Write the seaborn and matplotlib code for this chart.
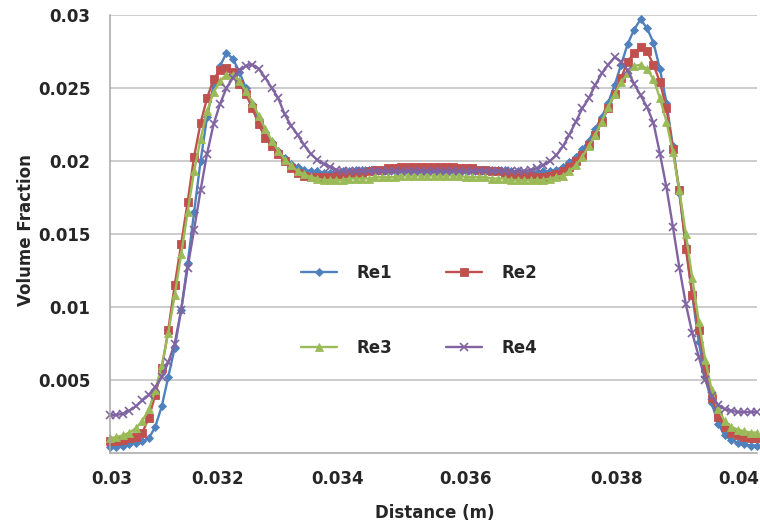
import numpy as np
import pandas as pd
import matplotlib
matplotlib.use('Agg')
import matplotlib.pyplot as plt
import seaborn as sns

# distance samples (m), 101 equally spaced rows as in the spreadsheet
distance = np.linspace(0.030, 0.040, 101)

re1 = [0.0004, 0.0004, 0.0005, 0.0006, 0.0007, 0.0008, 0.0010, 0.0018, 0.0032, 0.0052,
       0.0072, 0.0098, 0.0130, 0.0165, 0.0200, 0.0230, 0.0252, 0.0265, 0.0274, 0.0270,
       0.0261, 0.0250, 0.0239, 0.0229, 0.0220, 0.0213, 0.0207, 0.0202, 0.0198, 0.0196,
       0.0194, 0.0193, 0.0193, 0.0192, 0.0192, 0.0192, 0.0193, 0.0193, 0.0194, 0.0194,
       0.0194, 0.0194, 0.0193, 0.0193, 0.0193, 0.0193, 0.0193, 0.0193, 0.0193, 0.0193,
       0.0193, 0.0193, 0.0193, 0.0193, 0.0193, 0.0193, 0.0193, 0.0193, 0.0194, 0.0194,
       0.0194, 0.0194, 0.0193, 0.0193, 0.0192, 0.0192, 0.0192, 0.0193, 0.0193, 0.0194,
       0.0196, 0.0199, 0.0203, 0.0208, 0.0214, 0.0222, 0.0230, 0.0240, 0.0252, 0.0266,
       0.0280, 0.0290, 0.0297, 0.0291, 0.0281, 0.0263, 0.0240, 0.0210, 0.0178, 0.0142,
       0.0108, 0.0076, 0.0052, 0.0034, 0.0020, 0.0012, 0.0009, 0.0007, 0.0006, 0.0005, 0.0005]

re2 = [0.0008, 0.0008, 0.0009, 0.0010, 0.0011, 0.0014, 0.0024, 0.0040, 0.0058, 0.0084,
       0.0115, 0.0143, 0.0172, 0.0203, 0.0226, 0.0243, 0.0256, 0.0262, 0.0264, 0.0261,
       0.0253, 0.0246, 0.0236, 0.0225, 0.0216, 0.0210, 0.0205, 0.0200, 0.0195, 0.0192,
       0.0190, 0.0189, 0.0189, 0.0189, 0.0189, 0.0190, 0.0190, 0.0191, 0.0192, 0.0192,
       0.0193, 0.0194, 0.0194, 0.0195, 0.0195, 0.0196, 0.0196, 0.0196, 0.0196, 0.0196,
       0.0196, 0.0196, 0.0196, 0.0196, 0.0195, 0.0195, 0.0195, 0.0194, 0.0194, 0.0193,
       0.0193, 0.0192, 0.0191, 0.0191, 0.0190, 0.0190, 0.0189, 0.0189, 0.0190, 0.0191,
       0.0193, 0.0196, 0.0200, 0.0204, 0.0211, 0.0218, 0.0227, 0.0236, 0.0246, 0.0257,
       0.0268, 0.0274, 0.0278, 0.0275, 0.0266, 0.0254, 0.0236, 0.0208, 0.0180, 0.0140,
       0.0108, 0.0084, 0.0058, 0.0038, 0.0025, 0.0018, 0.0014, 0.0012, 0.0011, 0.0010, 0.0010]

re3 = [0.0010, 0.0011, 0.0012, 0.0014, 0.0017, 0.0022, 0.0030, 0.0043, 0.0060, 0.0082,
       0.0108, 0.0136, 0.0165, 0.0193, 0.0215, 0.0234, 0.0247, 0.0255, 0.0259, 0.0259,
       0.0255, 0.0248, 0.0240, 0.0231, 0.0222, 0.0214, 0.0207, 0.0201, 0.0197, 0.0193,
       0.0191, 0.0189, 0.0188, 0.0187, 0.0187, 0.0187, 0.0187, 0.0188, 0.0188, 0.0188,
       0.0188, 0.0189, 0.0189, 0.0189, 0.0189, 0.0190, 0.0190, 0.0190, 0.0190, 0.0190,
       0.0190, 0.0190, 0.0190, 0.0190, 0.0190, 0.0189, 0.0189, 0.0189, 0.0189, 0.0188,
       0.0188, 0.0188, 0.0187, 0.0187, 0.0187, 0.0187, 0.0187, 0.0187, 0.0188, 0.0189,
       0.0190, 0.0193, 0.0197, 0.0203, 0.0210, 0.0218, 0.0227, 0.0237, 0.0246, 0.0254,
       0.0260, 0.0265, 0.0266, 0.0263, 0.0256, 0.0243, 0.0227, 0.0206, 0.0180, 0.0150,
       0.0120, 0.0090, 0.0064, 0.0043, 0.0030, 0.0022, 0.0018, 0.0016, 0.0015, 0.0014, 0.0014]

re4 = [0.0026, 0.0026, 0.0027, 0.0029, 0.0032, 0.0036, 0.0040, 0.0045, 0.0052, 0.0062,
       0.0075, 0.0098, 0.0127, 0.0153, 0.0180, 0.0205, 0.0225, 0.0239, 0.0250, 0.0257,
       0.0262, 0.0265, 0.0266, 0.0263, 0.0257, 0.0250, 0.0243, 0.0232, 0.0224, 0.0218,
       0.0211, 0.0205, 0.0201, 0.0198, 0.0196, 0.0194, 0.0193, 0.0193, 0.0193, 0.0193,
       0.0193, 0.0193, 0.0193, 0.0193, 0.0193, 0.0193, 0.0193, 0.0193, 0.0193, 0.0193,
       0.0193, 0.0193, 0.0193, 0.0193, 0.0193, 0.0193, 0.0193, 0.0193, 0.0193, 0.0193,
       0.0193, 0.0193, 0.0193, 0.0193, 0.0193, 0.0194, 0.0195, 0.0197, 0.0200, 0.0204,
       0.0210, 0.0218, 0.0227, 0.0236, 0.0243, 0.0252, 0.0260, 0.0266, 0.0271, 0.0268,
       0.0262, 0.0253, 0.0245, 0.0237, 0.0226, 0.0205, 0.0182, 0.0155, 0.0127, 0.0102,
       0.0082, 0.0066, 0.0050, 0.0039, 0.0033, 0.0030, 0.0029, 0.0028, 0.0028, 0.0028, 0.0028]

series_names = ['Re1', 'Re2', 'Re3', 'Re4']
colors = ['#4F81BD', '#C0504D', '#9BBB59', '#8064A2']
markers = ['D', 's', '^', 'x']
marker_sizes = [4, 6, 6, 6]

x_tick_labels = ['0.03', '0.032', '0.034', '0.036', '0.038', '0.04']
x_tick_pos = [0.03003, 0.03167, 0.03352, 0.03550, 0.03783, 0.03972]
y_ticks = [0.005, 0.01, 0.015, 0.02, 0.025, 0.03]
y_tick_labels = ['0.005', '0.01', '0.015', '0.02', '0.025', '0.03']

df = pd.DataFrame({
    'Distance': np.tile(distance, 4),
    'Volume Fraction': re1 + re2 + re3 + re4,
    'Series': np.repeat(series_names, len(distance)),
})

sns.set_style('white')
plt.rcParams['font.family'] = ['DejaVu Sans']

fig = plt.figure(figsize=(7.6, 5.25), dpi=100)
ax = fig.add_axes([110 / 760, 1 - 453 / 525, 647 / 760, 438 / 525])

for name, col, mk, ms in zip(series_names, colors, markers, marker_sizes):
    sub = df[df['Series'] == name]
    sns.lineplot(data=sub, x='Distance', y='Volume Fraction', ax=ax, color=col,
                 marker=mk, markersize=ms, markeredgecolor=col,
                 markeredgewidth=1.2 if mk == 'x' else 0.6,
                 linewidth=1.7, label=name, clip_on=False)

ax.set_xlim(0.030, 0.040)
ax.set_ylim(0, 0.03)
ax.set_yticks(y_ticks)
ax.set_yticklabels(y_tick_labels)
ax.set_xticks(x_tick_pos)
ax.set_xticklabels(x_tick_labels)
ax.grid(axis='y', color='#BEBEBE', linewidth=1.1)
ax.set_axisbelow(True)
for side in ['top', 'right']:
    ax.spines[side].set_visible(False)
for side in ['left', 'bottom']:
    ax.spines[side].set_color('#A6A6A6')
    ax.spines[side].set_linewidth(1.1)

ax.tick_params(axis='both', length=0, labelsize=12)
ax.tick_params(axis='x', pad=12)
ax.tick_params(axis='y', pad=14)
for lab in ax.get_xticklabels() + ax.get_yticklabels():
    lab.set_fontweight('bold')

ax.set_xlabel('Distance (m)', fontsize=12, fontweight='bold')
ax.set_ylabel('Volume Fraction', fontsize=12, fontweight='bold')
ax.xaxis.set_label_coords(0.502, -0.117)
ax.yaxis.set_label_coords(-0.116, 0.509)

# legend filled row by row: Re1 Re2 / Re3 Re4
handles, labels = ax.get_legend_handles_labels()
order = [0, 2, 1, 3]
ax.legend([handles[i] for i in order], [labels[i] for i in order],
          ncol=2, frameon=False, loc='center', bbox_to_anchor=(0.478, 0.326),
          labelspacing=3.4, columnspacing=3.2, handlelength=2.15, handletextpad=1.2,
          numpoints=1, prop={'weight': 'bold', 'size': 12})

fig.savefig('out.png', dpi=100)
